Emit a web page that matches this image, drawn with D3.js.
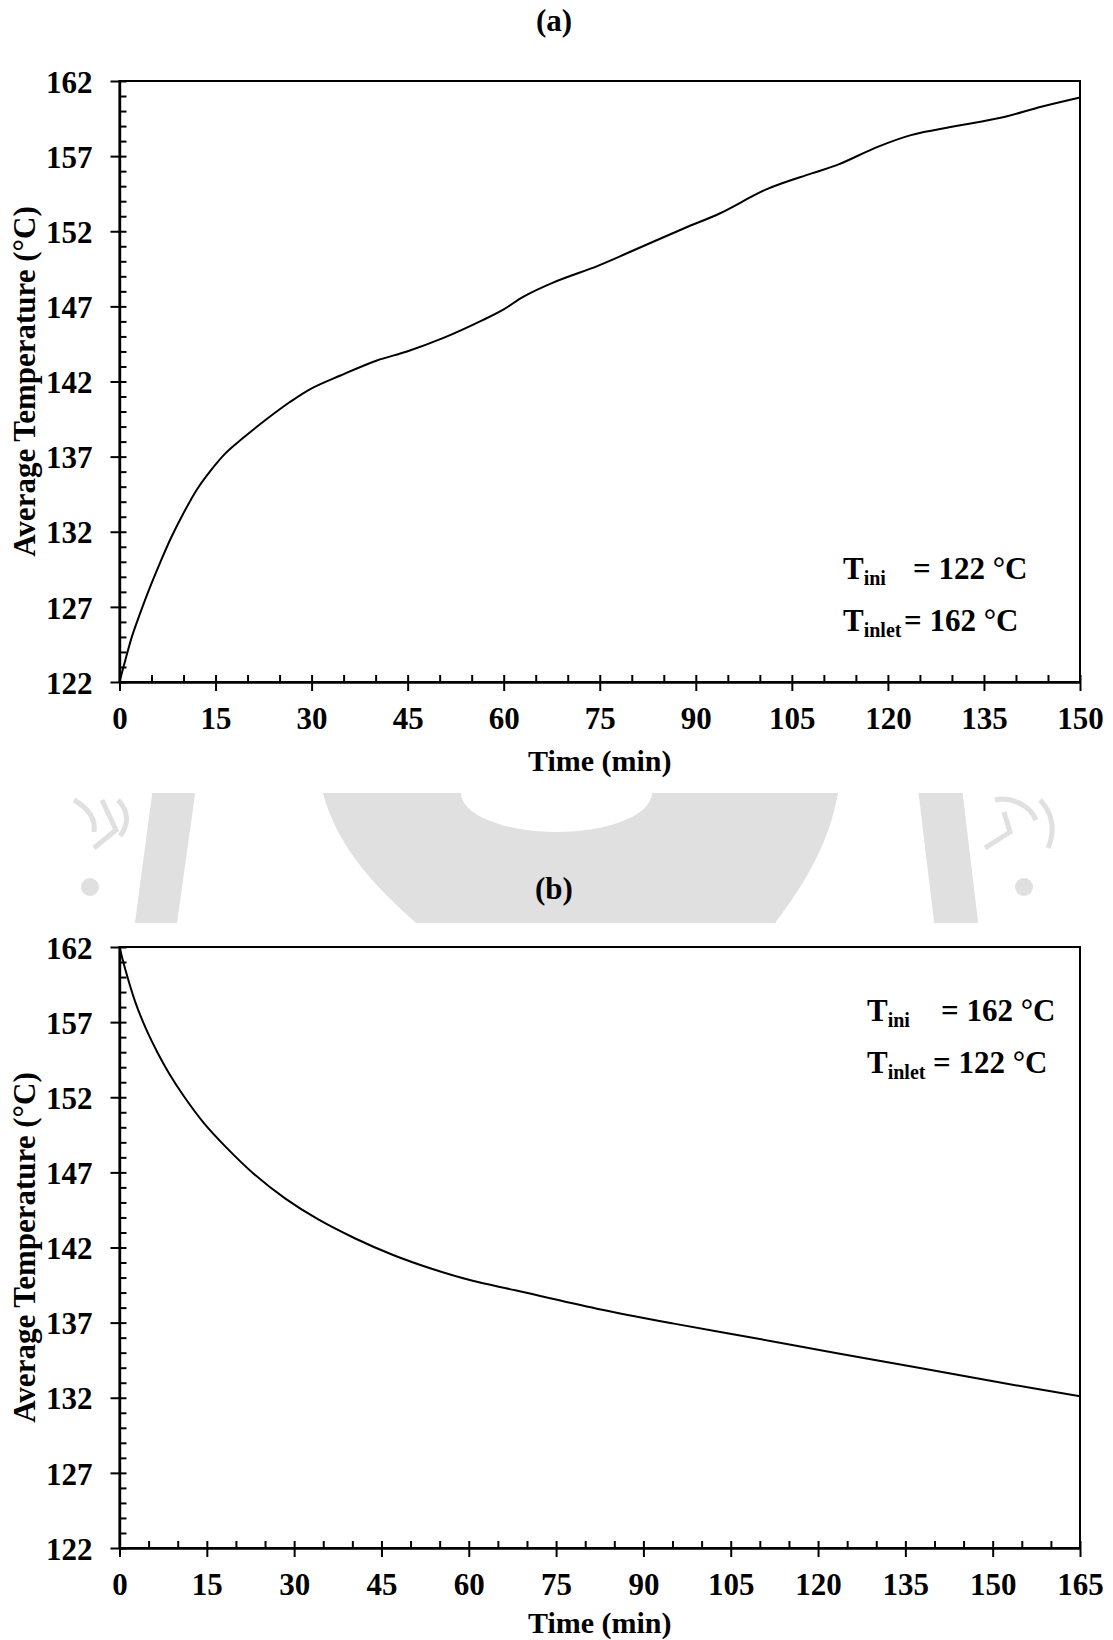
<!DOCTYPE html>
<html>
<head>
<meta charset="utf-8">
<script src="https://cdn.jsdelivr.net/npm/d3@7"></script>
<style>
  body { margin: 0; background: #fff; }
  svg text { font-family: "Liberation Serif", "Times New Roman", serif; font-weight: bold; fill: #000; }
</style>
</head>
<body>
<svg id="main" width="1113" height="1640"></svg>
<script>
// ---------- data ----------
var panelLabels = ["(a)", "(b)"];

var timeA = [0, 1, 2, 3.2, 4.8, 6.4, 8, 9.7, 12, 14.2, 16.5, 18.9, 23, 26.5, 29.8, 34.5, 40.2, 44.9,
  50.6, 56.8, 60, 63.1, 67.8, 74.7, 79.6, 88.2, 93.8, 101.1, 108.1, 112.3, 118.3, 123.6, 130.6, 137.6, 144.1, 150];
var tempA = [122, 123.6, 125.1, 126.55, 128.35, 130.0, 131.55, 133.0, 134.75, 136.05, 137.2, 138.1, 139.5, 140.6, 141.5, 142.4, 143.4, 144.0,
  144.9, 146.1, 146.8, 147.65, 148.6, 149.7, 150.6, 152.2, 153.2, 154.8, 155.85, 156.45, 157.6, 158.4, 159.0, 159.55, 160.3, 160.9];

var timeB = [0, 1, 2.7, 4.5, 6.5, 8.5, 11, 14.5, 18.5, 23, 28.5, 34, 40.5, 47, 53.5, 60.5,
  68, 82, 95, 109.5, 123.5, 138, 152, 165];
var tempB = [162, 160.5, 158.35, 156.6, 155.0, 153.6, 152.1, 150.28, 148.6, 146.93, 145.25, 143.9, 142.6, 141.5, 140.6, 139.8,
  139.15, 137.93, 136.95, 135.94, 134.95, 133.94, 132.96, 132.1];

var yTicks = [122, 127, 132, 137, 142, 147, 152, 157, 162];
var xTicksA = [0, 15, 30, 45, 60, 75, 90, 105, 120, 135, 150];
var xTicksB = [0, 15, 30, 45, 60, 75, 90, 105, 120, 135, 150, 165];

var notesA = [["ini", "= 122 °C"], ["inlet", "= 162 °C"]];
var notesB = [["ini", "= 162 °C"], ["inlet", "= 122 °C"]];

var xTitle = "Time (min)";
var yTitle = "Average Temperature (°C)";

// ---------- layout ----------
var svg = d3.select("#main");
var left = 119.5, right = 1080, plotH = 601;

/*
  faint logo watermark, only visible in the band between the two charts
*/
function drawWatermark() {
  svg.append("clipPath").attr("id", "band")
    .append("rect").attr("x", 0).attr("y", 793).attr("width", 1113).attr("height", 130);
  var g = svg.append("g").attr("clip-path", "url(#band)").style("fill", "#e0e0e0");
  g.append("path").attr("d", "M154,780 L197,780 L176,930 L134,930 Z");
  g.append("path").attr("d", "M917,780 L961,780 L979,930 L935,930 Z");
  g.append("path").attr("d",
    "M320,780 L461,780 L461,793 A95.5,39 0 0 0 652,793 L652,780 L840,780 " +
    "C832,845 800,890 770,930 L424,930 C385,895 333,850 320,780 Z");
  g.append("circle").attr("cx", 90).attr("cy", 887).attr("r", 9);
  g.append("circle").attr("cx", 1024).attr("cy", 887).attr("r", 9);
  var s = g.append("g").style("fill", "none").style("stroke", "#e0e0e0").style("stroke-width", 5);
  s.append("path").attr("d", "M74,800 C88,808 96,818 94,832 M102,800 L116,830 L94,848 M118,800 C130,812 128,826 120,836");
  s.append("path").attr("d", "M985,848 L1010,832 L1004,812 M995,800 C1012,796 1030,806 1036,820 M1040,800 C1052,812 1056,830 1048,848");
}

function drawPanel(cfg) {
  var top = cfg.top, bottom = top + plotH;
  var x = d3.scaleLinear().domain([0, cfg.xMax]).range([left, right]);
  var y = d3.scaleLinear().domain([122, 162]).range([bottom, top]);

  svg.append("text").attr("x", 554).attr("y", cfg.labelY)
    .attr("text-anchor", "middle").style("font-size", "31px").text(cfg.label);

  var g = svg.append("g");
  g.append("rect").attr("x", left).attr("y", top).attr("width", right - left).attr("height", plotH)
    .style("fill", "#fff").style("stroke", "#000").style("stroke-width", 2);

  // minor + major ticks pointing inside
  g.append("g").attr("transform", "translate(0," + bottom + ")")
    .call(d3.axisBottom(x).tickValues(d3.range(0, cfg.xMax + 1, 5)).tickSize(-7).tickFormat(""))
    .call(function (a) { a.select(".domain").remove(); });
  g.append("g").attr("transform", "translate(" + left + ",0)")
    .call(d3.axisLeft(y).tickValues(d3.range(122, 163, 1)).tickSize(-7).tickFormat(""))
    .call(function (a) { a.select(".domain").remove(); });

  // major ticks outside with labels
  var xa = g.append("g").attr("transform", "translate(0," + bottom + ")")
    .call(d3.axisBottom(x).tickValues(cfg.xTicks).tickSize(9).tickSizeOuter(0));
  xa.selectAll("text").attr("y", 47).attr("dy", null).style("font-size", "31px");
  var ya = g.append("g").attr("transform", "translate(" + left + ",0)")
    .call(d3.axisLeft(y).tickValues(yTicks).tickSize(9).tickSizeOuter(0));
  ya.selectAll("text").attr("x", -27).attr("dy", "0.36em").style("font-size", "31px");

  g.selectAll(".tick line").style("stroke", "#000").style("stroke-width", 2);
  g.selectAll(".domain").style("stroke", "#000").style("stroke-width", 2.4);
  g.selectAll(".tick text").style("font-family", null);

  // the curve
  var line = d3.line()
    .x(function (d) { return x(d[0]); })
    .y(function (d) { return y(d[1]); })
    .curve(d3.curveCatmullRom.alpha(0.5));
  g.append("path").datum(d3.zip(cfg.time, cfg.temp)).attr("d", line)
    .style("fill", "none").style("stroke", "#000").style("stroke-width", 2);

  // titles
  g.append("text").attr("x", (left + right) / 2).attr("y", bottom + cfg.titleGap)
    .attr("text-anchor", "middle").style("font-size", "30px").text(xTitle);
  g.append("text").attr("transform", "translate(35," + (top + plotH / 2) + ") rotate(-90)")
    .attr("text-anchor", "middle").style("font-size", "31px").text(yTitle);

  // T_ini / T_inlet note
  cfg.notes.forEach(function (n, i) {
    var by = top + cfg.noteY + i * 52;
    var t = g.append("text").attr("x", cfg.noteX).attr("y", by).style("font-size", "31px");
    t.append("tspan").text("T");
    t.append("tspan").attr("dy", 6).style("font-size", "20px").text(n[0]);
    g.append("text").attr("x", cfg.noteX + cfg.valueDx[i]).attr("y", by)
      .style("font-size", "31px").text(n[1]);
  });
}

drawWatermark();

drawPanel({ label: panelLabels[0], labelY: 31, top: 81, xMax: 150, xTicks: xTicksA,
  time: timeA, temp: tempA, notes: notesA, noteX: 843, noteY: 498, valueDx: [70, 61], titleGap: 89 });
drawPanel({ label: panelLabels[1], labelY: 899, top: 947, xMax: 165, xTicks: xTicksB,
  time: timeB, temp: tempB, notes: notesB, noteX: 867, noteY: 74, valueDx: [74, 66], titleGap: 85 });
</script>
</body>
</html>
